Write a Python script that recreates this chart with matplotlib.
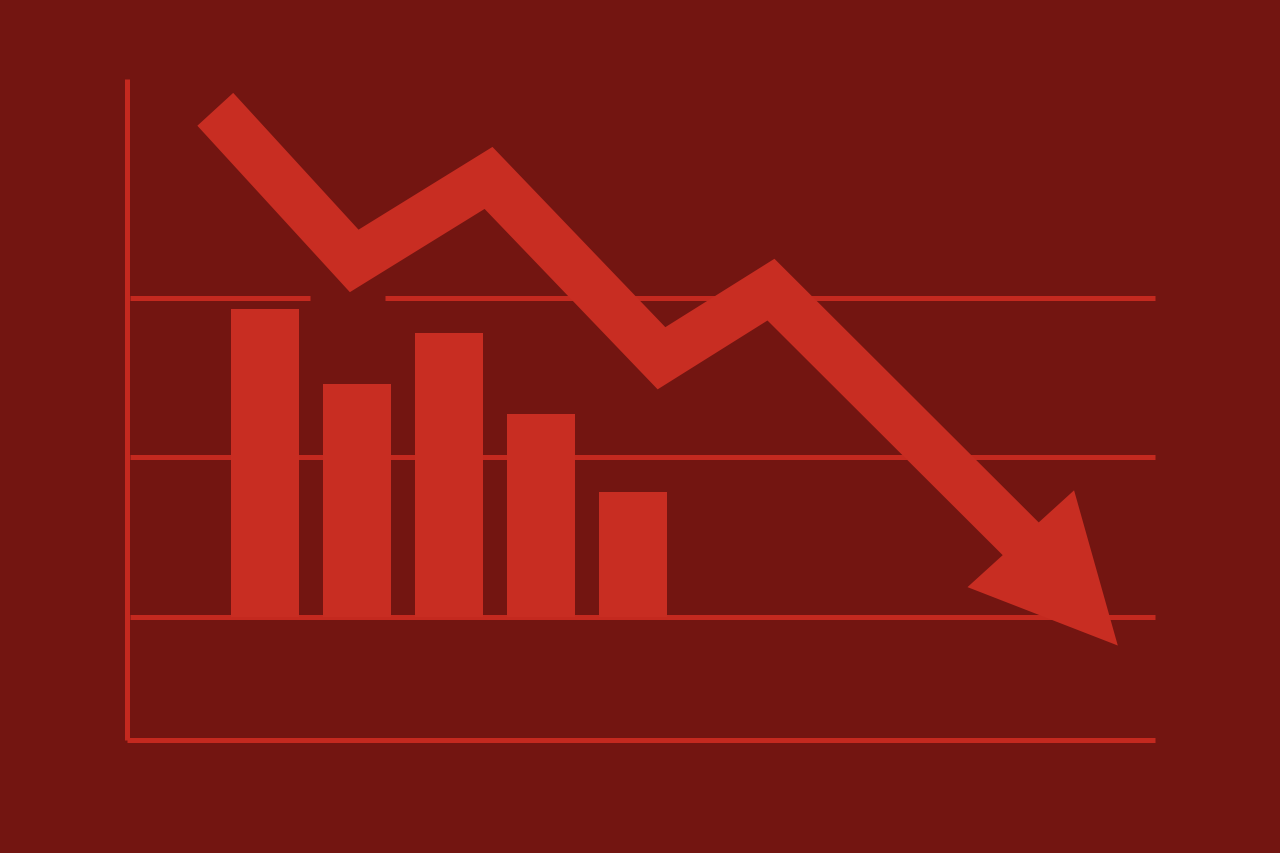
import matplotlib
matplotlib.use("Agg")
import matplotlib.pyplot as plt
import numpy as np
from matplotlib.patches import Polygon

# ---- data (chart units) ----
categories = ["A", "B", "C", "D", "E"]
bar_x = [1.5, 2.5, 3.5, 4.5, 5.5]
bar_values = [1.93, 1.46, 1.78, 1.27, 0.78]

trend_x = [0.96, 2.47, 3.93, 5.81, 7.00, 9.73]
trend_y = [3.18, 2.23, 2.75, 1.62, 2.05, 0.48]
tip_x, tip_y = 10.77, -0.18

grid_levels = [0, 1, 2]
axis_bottom = -0.77
axis_top = 3.37
x_start, x_end = 0.03, 11.17
gap_start, gap_end = 1.99, 2.80

BG = "#731511"
RED = "#c82d22"
LINE = "#c4291f"

fig = plt.figure(figsize=(12.8, 8.535), dpi=100)
fig.patch.set_facecolor(BG)
ax = fig.add_axes([0, 0, 1, 1])
ax.set_facecolor(BG)
ax.set_xlim(-1.380, 12.533)
ax.set_ylim(-1.480, 3.868)
ax.axis("off")

lw_grid = 3.6
# y axis and bottom axis
ax.plot([0, 0], [axis_bottom, axis_top], color=LINE, lw=lw_grid, solid_capstyle="butt", zorder=1)
ax.plot([0, x_end], [axis_bottom, axis_bottom], color=LINE, lw=lw_grid, solid_capstyle="butt", zorder=1)
# gridlines
for lv in grid_levels:
    if lv == grid_levels[-1]:
        ax.plot([x_start, gap_start], [lv, lv], color=LINE, lw=lw_grid, solid_capstyle="butt", zorder=1)
        ax.plot([gap_end, x_end], [lv, lv], color=LINE, lw=lw_grid, solid_capstyle="butt", zorder=1)
    else:
        ax.plot([x_start, x_end], [lv, lv], color=LINE, lw=lw_grid, solid_capstyle="butt", zorder=1)

# bars
ax.bar(bar_x, bar_values, width=0.74, bottom=0, color=RED, zorder=2)

# trend line
ax.plot(trend_x, trend_y, color=RED, lw=35, solid_capstyle="butt",
        solid_joinstyle="miter", zorder=3)

# arrowhead computed in display space
p0 = ax.transData.transform((trend_x[-1], trend_y[-1]))
pt = ax.transData.transform((tip_x, tip_y))
d = pt - p0
L = np.hypot(*d)
u = d / L
n = np.array([-u[1], u[0]])
half_w = 72
base = p0 - u * 2
tri = np.array([base + n * half_w, pt, base - n * half_w])
ax.add_patch(Polygon(tri, closed=True, transform=None, facecolor=RED, edgecolor="none", zorder=4))

fig.savefig("out.png", dpi=100, facecolor=BG)
